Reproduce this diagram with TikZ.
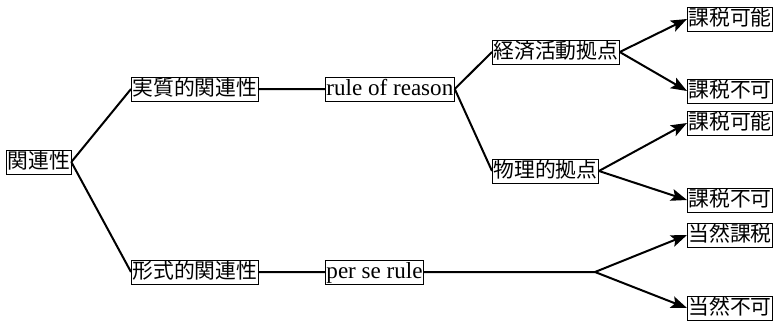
\documentclass[tikz,border=0pt]{standalone}
\usepackage{fontspec}
\setmainfont{Liberation Serif}
\newfontfamily\jpfont{Noto Sans CJK JP}
\usepackage{tikz}
\usetikzlibrary{arrows.meta,positioning}

\begin{document}
\begin{tikzpicture}[x=0.75pt,y=-0.75pt,line width=1.5pt,>={Stealth[length=12pt,width=9pt,inset=2.5pt]},
    box/.style={draw,line width=0.6pt,anchor=west,inner xsep=0.8pt,inner ysep=1.3pt,text height=12.3pt,text depth=3pt},
    jbox/.style={box,font=\jpfont\fontsize{15.6}{15.6}\selectfont},
    ebox/.style={box,font=\fontsize{17.3}{17.3}\selectfont}]

    \useasboundingbox (0,0) rectangle (776,322);

    % The tree
	\node [jbox] at (6,162) (rel) {関連性};
	\node [jbox] at (131,89) (subst) {実質的関連性};
	\node [jbox] at (131,272) (formal) {形式的関連性};
	\node [ebox] at (325,89) (reason) {rule of reason};
	\node [ebox] at (325,272) (perse) {per se rule};
	\node [jbox] at (492,52) (econ) {経済活動拠点};
	\node [jbox] at (492,171) (phys) {物理的拠点};
	\node [jbox] at (687,19) (econyes) {課税可能};
	\node [jbox] at (687,91) (econno) {課税不可};
	\node [jbox] at (687,123) (physyes) {課税可能};
	\node [jbox] at (687,200) (physno) {課税不可};
	\node [jbox] at (687,235) (taxed) {当然課税};
	\node [jbox] at (687,308) (nottaxed) {当然不可};
	\coordinate (fork) at (595,272);

	% Tree edges
	\path[draw]
	(rel.east) -- (subst.west)
	(rel.east) -- (formal.west)
	(subst) -- (reason)
	(formal) -- (perse)
	(reason.east) -- (econ.west)
	(reason.east) -- (phys.west)
	(perse.east) -- (fork);

	\path[->]
	(econ.east) edge (econyes.west)
	(econ.east) edge (econno.west)
	(phys.east) edge (physyes.west)
	(phys.east) edge (physno.west)
	(fork) edge (taxed.west)
	(fork) edge (nottaxed.west);

\end{tikzpicture}
\end{document}
